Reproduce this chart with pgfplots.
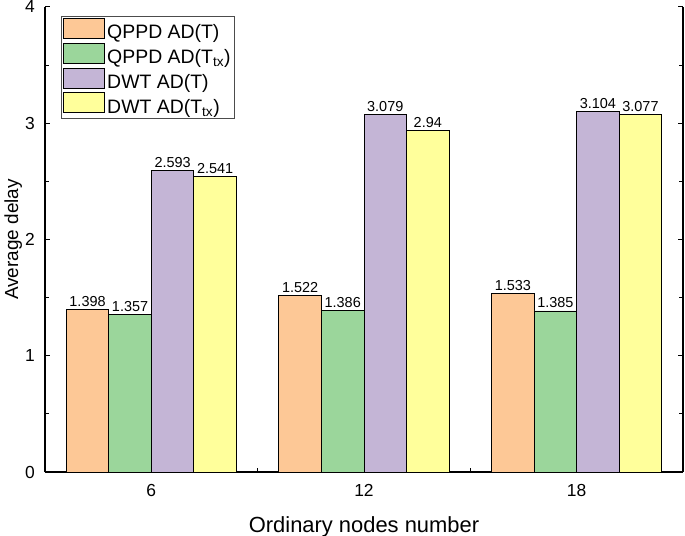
\documentclass[border=0pt]{standalone}
\usepackage{fontspec}
\setmainfont{Liberation Sans}
\usepackage{pgfplots}
\pgfplotsset{compat=1.18}
\definecolor{c1}{RGB}{253,200,150}
\definecolor{c2}{RGB}{155,214,155}
\definecolor{c3}{RGB}{196,181,214}
\definecolor{c4}{RGB}{255,255,155}
\pgfplotsset{
  mybar/.style={ybar, bar width=1.2, bar shift=0pt, draw=black, line width=0.9bp, fill=#1,
    legend image code/.code={\draw[##1] (0bp,-6bp) rectangle (41bp,14bp);}},
}
\begin{document}
\begin{tikzpicture}
\begin{axis}[
  name=ax,
  scale only axis, width=638bp, height=465bp,
  xmin=3, xmax=21, ymin=0, ymax=4,
  axis x line*=bottom, axis y line*=box,
  tick align=inside,
  xtick={6,12,18}, minor xtick={9,15},
  ytick={0,1,2,3,4}, minor ytick={0.5,1.5,2.5,3.5},
  major tick length=5bp, minor tick length=4bp,
  every tick/.style={black, line width=1bp},
  axis line style={line width=1.1bp, black},
  /pgf/number format/assume math mode=true,
  tick label style={font=\fontsize{17.5}{20}\selectfont},
  xticklabel style={anchor=base, inner sep=0pt, yshift=-24.5bp},
  yticklabel style={anchor=east, inner sep=0pt, xshift=-10bp},
  xlabel={Ordinary nodes number},
  ylabel={Average delay},
  xlabel style={font=\fontsize{22}{24}\selectfont, at={(axis description cs:0.5,-0.131)}, anchor=base},
  ylabel style={font=\fontsize{19}{22}\selectfont, at={(axis description cs:-0.042,0.5)}, anchor=base},
  nodes near coords={\pgfmathprintnumber[fixed,precision=3]{\pgfplotspointmeta}},
  nodes near coords style={font=\fontsize{14.5}{16}\selectfont, anchor=base, inner sep=0pt, yshift=3bp, black},
  legend style={at={(axis description cs:0.025,0.981)}, anchor=north west,
    draw=black!70, line width=0.8bp, font=\fontsize{19.5}{22}\selectfont,
    inner xsep=2bp, inner ysep=2bp, row sep=0.5bp},
  legend cell align=left,
]
\addplot[mybar=c1] coordinates {(4.2,1.398) (10.2,1.522) (16.2,1.533)};
\addplot[mybar=c2] coordinates {(5.4,1.357) (11.4,1.386) (17.4,1.385)};
\addplot[mybar=c3] coordinates {(6.6,2.593) (12.6,3.079) (18.6,3.104)};
\addplot[mybar=c4] coordinates {(7.8,2.541) (13.8,2.94) (19.8,3.077)};
\legend{QPPD AD(T), QPPD AD(T\textsubscript{tx}), DWT AD(T), DWT AD(T\textsubscript{tx})}
\coordinate (a) at (rel axis cs:0,0);
\coordinate (b) at (rel axis cs:1,1);
\end{axis}
\pgfresetboundingbox
\path ([shift={(-45bp,-64bp)}]a) rectangle ([shift={(2bp,7bp)}]b);
\end{tikzpicture}
\end{document}
